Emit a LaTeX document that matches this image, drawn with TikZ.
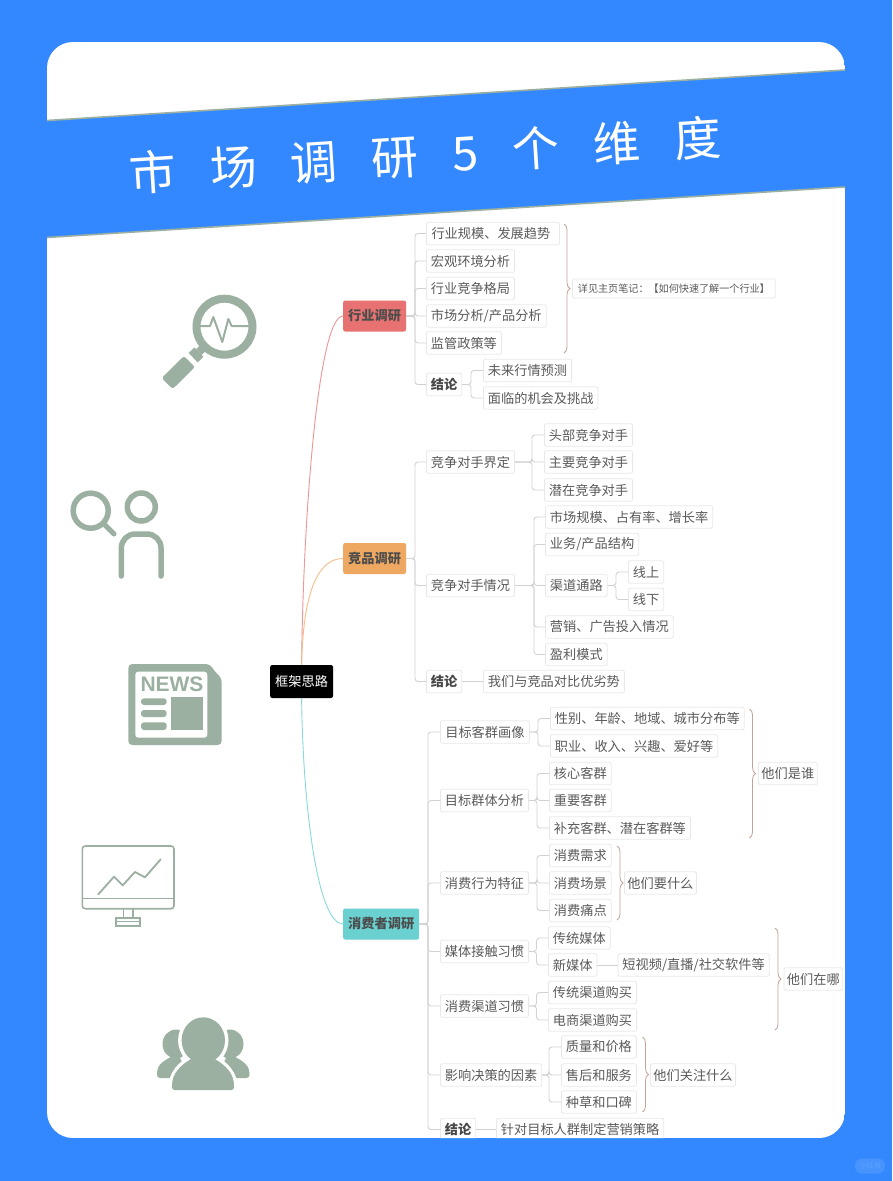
\documentclass[tikz,border=0pt]{standalone}
\usepackage{fontspec}
\setmainfont{Noto Sans CJK SC}
\newfontfamily\newsfont{Liberation Sans}
\usetikzlibrary{decorations.pathreplacing}
\definecolor{bgblue}{HTML}{3388FF}
\definecolor{sage}{HTML}{9BB0A0}
\definecolor{boxline}{HTML}{E8E8E8}
\definecolor{txt}{HTML}{5A5A5A}
\definecolor{conn}{HTML}{D2D2D2}
\definecolor{bracecol}{HTML}{C4A49A}
\definecolor{hyred}{HTML}{E87272}
\definecolor{jporange}{HTML}{EFA862}
\definecolor{xfteal}{HTML}{6AD0D0}
\tikzset{
  bx/.style={draw=boxline,line width=0.8pt,fill=white,rounded corners=2pt,anchor=west,
    inner xsep=4.5pt,inner ysep=0pt,minimum height=22.5pt,text=txt,font=\fontsize{13.2}{14}\selectfont},
  bb/.style={bx,font=\fontsize{13.2}{14}\selectfont\bfseries,text=black!72},
  nt/.style={bx,inner xsep=3pt},
  topic/.style={rounded corners=2pt,anchor=west,inner xsep=5pt,inner ysep=0pt,minimum height=31pt,
    text=black!70,font=\fontsize{13.2}{14}\selectfont\bfseries},
  lk/.style={draw=conn,line width=0.9pt,rounded corners=3pt},
  brc/.style={draw=bracecol,line width=0.8pt,decorate,decoration={brace,amplitude=6pt}},
  icl/.style={draw=sage,line cap=round,line join=round},
}
% \lkto{parent}{trunk x}{child}
\newcommand{\lkto}[3]{\draw[lk] (#1.east) -- (#2,0 |- #1.east) |- (#3.west);}
\begin{document}
\begin{tikzpicture}[x=1pt,y=-1pt]
\useasboundingbox (0,0) rectangle (892,1181);
\fill[bgblue] (0,0) rectangle (892,1181);
\begin{scope}
\clip[rounded corners=26pt] (47,42) rectangle (845,1138);
\fill[white] (47,42) rectangle (845,1138);
% title band
\fill[bgblue] (47,120.5) -- (845,70) -- (845,187) -- (47,237.5) -- cycle;
\draw[sage,line width=1.6pt] (47,120.5) -- (845,70);
\draw[sage,line width=1.6pt] (47,237.5) -- (845,187);
\node[rotate=3.62,text=white,font=\fontsize{47}{50}\selectfont] (title) at (425,155)
  {市\hspace{34pt}场\hspace{34pt}调\hspace{34pt}研\hspace{34pt}5\hspace{34pt}个\hspace{34pt}维\hspace{34pt}度};

% ---------- icons
% magnifier
\draw[sage,line width=8pt] (224.5,326.7) circle (28);
\draw[icl,line width=2pt] (200.7,326) -- (210,326) -- (213.3,317) -- (222.3,342) -- (228.3,319) -- (231.7,326) -- (248.3,326);
\draw[sage,line width=8pt] (203.2,347.9) -- (198.9,352.1);
\draw[sage,line width=13pt] (198.9,352.1) -- (193.2,357.7);
\fill[sage,rounded corners=2.5pt] (184,356) -- (195,367) -- (172.7,389) -- (161.7,378) -- cycle;
% person + magnifier
\draw[sage,line width=5.5pt] (90.7,510.7) circle (17.5);
\draw[icl,line width=5pt] (103.3,523.3) -- (114,534);
\draw[sage,line width=5.5pt] (141.3,507) circle (14);
\draw[icl,line width=5.5pt,rounded corners=14pt] (121.3,576) -- (121.3,534) -- (161,534) -- (161,576);
% news
\fill[sage,rounded corners=4pt] (128.3,664) -- (210,664) -- (215,672) -- (221.7,678) -- (221.7,745) -- (128.3,745) -- cycle;
\fill[white,rounded corners=3pt] (135.3,671.7) rectangle (207.3,737.7);
\node[text=sage,font=\newsfont\fontsize{21}{21}\selectfont\bfseries,inner sep=0pt] (news) at (172,684) {NEWS};
\fill[sage,rounded corners=3pt] (141,698.3) rectangle (166.7,705);
\fill[sage,rounded corners=3pt] (141,710) rectangle (166.7,717);
\fill[sage,rounded corners=3pt] (141,722.3) rectangle (166.7,730);
\fill[sage] (170.7,697.3) rectangle (202.7,730.3);
% monitor
\draw[sage,line width=1.6pt,rounded corners=3pt] (82.3,846) rectangle (174,908.7);
\draw[sage,line width=1.6pt] (82.3,898.3) -- (174,898.3);
\draw[sage,line width=1.6pt] (123.3,908.7) -- (123.3,917.7);
\draw[sage,line width=1.6pt] (132.7,908.7) -- (132.7,917.7);
\draw[sage,line width=1.6pt] (115.7,917.7) rectangle (140,926);
\draw[sage,line width=1.2pt] (115.7,921.7) -- (140,921.7);
\draw[icl,line width=1.8pt] (98.3,894.3) -- (114,876.7) -- (122.7,885.3) -- (135,872) -- (145,877.3) -- (160.7,859.3);
% group
\fill[sage] (176,1044) ellipse (13.5 and 14.5);
\fill[sage] (230,1044) ellipse (13.5 and 14.5);
\fill[sage,rounded corners=3pt] (157,1078) -- (157,1072) .. controls (159,1063) and (168,1058) .. (178,1054) -- (190,1078) -- cycle;
\fill[sage,rounded corners=3pt] (249.5,1078) -- (249.5,1072) .. controls (247,1063) and (238,1058) .. (228,1054) -- (216,1078) -- cycle;
\def\grpbody{(172,1090) -- (172,1084) .. controls (174,1070) and (185,1062) .. (197,1056) -- (209,1056) .. controls (221,1062) and (232,1070) .. (234,1084) -- (234,1090) -- cycle}
\draw[white,line width=7pt] \grpbody;
\draw[white,line width=7pt] (203.3,1040.3) ellipse (21.7 and 23);
\fill[sage,rounded corners=2.5pt] \grpbody;
\fill[sage] (203.3,1040.3) ellipse (21.7 and 23);

% ---------- mind map
\node[fill=black,rounded corners=2pt,text=white,font=\fontsize{13.2}{14}\selectfont,minimum height=33pt,inner xsep=5pt,inner ysep=0pt,anchor=west] (root) at (270,681.5) {框架思路};
\node[topic,fill=hyred] (t1) at (343,316) {行业调研};
\node[topic,fill=jporange] (t2) at (343,558.5) {竞品调研};
\node[topic,fill=xfteal] (t3) at (343,924) {消费者调研};
\draw[draw=hyred!75,line width=0.9pt] (root.north) .. controls (303,520) and (318,316) .. (t1.west);
\draw[draw=jporange!75,line width=0.9pt] (root.north) .. controls (303,600) and (315,558.5) .. (t2.west);
\draw[draw=xfteal!80,line width=0.9pt] (root.south) .. controls (303,810) and (318,924) .. (t3.west);

% group 1
\node[bx,minimum width=133pt,align=left] (a1) at (426,233.5) {行业规模、发展趋势\hspace{4pt}};
\node[bx] (a2) at (426,261) {宏观环境分析};
\node[bx] (a3) at (426,288.5) {行业竞争格局};
\node[bx] (a4) at (426,316) {市场分析/产品分析};
\node[bx] (a5) at (426,343) {监管政策等};
\node[bb] (a6) at (426,384.5) {结论};
\node[bx] (a61) at (483,370.5) {未来行情预测};
\node[bx] (a62) at (483,398) {面临的机会及挑战};
\node[bx,font=\fontsize{10.1}{11}\selectfont,minimum height=19pt,inner xsep=5.5pt] (an) at (572,288.5) {详见主页笔记：【如何快速了解一个行业】};
\foreach \c in {a1,a2,a3,a4,a5,a6} {\lkto{t1}{415}{\c}}
\foreach \c in {a61,a62} {\lkto{a6}{471}{\c}}
\coordinate (ab1) at (564,224); \coordinate (ab2) at (564,353);
\draw[brc] (ab1) -- (ab2);

% group 2
\node[bx] (b1) at (426,462) {竞争对手界定\hspace{9pt}};
\node[bx] (b2) at (426,585.5) {竞争对手情况\hspace{10pt}};
\node[bb] (b3) at (426,681.5) {结论};
\node[bx] (b11) at (544,435) {头部竞争对手};
\node[bx] (b12) at (544,462) {主要竞争对手};
\node[bx] (b13) at (544,490) {潜在竞争对手};
\node[bx] (b21) at (545,517) {市场规模、占有率、增长率};
\node[bx] (b22) at (545,544.5) {业务/产品结构};
\node[bx] (b23) at (545,585.5) {渠道通路};
\node[bx] (b231) at (628,572) {线上};
\node[bx] (b232) at (628,599.5) {线下};
\node[bx] (b24) at (545,627) {营销、广告投入情况};
\node[bx] (b25) at (545,654.5) {盈利模式};
\node[bx] (b31) at (483,681.5) {我们与竞品对比优劣势};
\foreach \c in {b1,b2,b3} {\lkto{t2}{415}{\c}}
\foreach \c in {b11,b12,b13} {\lkto{b1}{532}{\c}}
\foreach \c in {b21,b22,b23,b24,b25} {\lkto{b2}{534}{\c}}
\foreach \c in {b231,b232} {\lkto{b23}{616}{\c}}
\draw[lk] (b3.east) -- (b31.west);

% group 3
\node[bx,minimum width=89pt] (c1) at (440,732) {目标客群画像};
\node[bx] (c2) at (440,800.5) {目标群体分析};
\node[bx] (c3) at (440,883) {消费行为特征};
\node[bx] (c4) at (440,951.5) {媒体接触习惯};
\node[bx] (c5) at (440,1006) {消费渠道习惯};
\node[bx] (c6) at (440,1075) {影响决策的因素};
\node[bb] (c7) at (440,1129.5) {结论};
\node[bx] (c11) at (550,718.5) {性别、年龄、地域、城市分布等};
\node[bx] (c12) at (550,746) {职业、收入、兴趣、爱好等};
\node[bx] (c21) at (549,773.5) {核心客群};
\node[bx] (c22) at (549,800.5) {重要客群};
\node[bx] (c23) at (549,828) {补充客群、潜在客群等};
\node[bx] (c31) at (549,855.5) {消费需求};
\node[bx] (c32) at (549,883) {消费场景};
\node[bx] (c33) at (549,910.5) {消费痛点};
\node[bx] (c41) at (548,938) {传统媒体};
\node[bx] (c42) at (548,965) {新媒体};
\node[bx] (c421) at (617.5,965) {短视频/直播/社交软件等};
\node[bx] (c51) at (548,992.5) {传统渠道购买};
\node[bx] (c52) at (548,1020) {电商渠道购买};
\node[bx] (c61) at (561,1047) {质量和价格};
\node[bx] (c62) at (561,1075) {售后和服务};
\node[bx] (c63) at (561,1102) {种草和口碑};
\node[bx] (c71) at (496,1129.5) {针对目标人群制定营销策略};
\node[nt] (cn1) at (758,773.5) {他们是谁};
\node[nt] (cn2) at (624,883) {他们要什么};
\node[nt] (cn3) at (783.5,979) {他们在哪};
\node[nt] (cn4) at (650,1075) {他们关注什么};
\foreach \c in {c1,c2,c3,c4,c5,c6,c7} {\lkto{t3}{428}{\c}}
\foreach \c in {c11,c12} {\lkto{c1}{538}{\c}}
\foreach \c in {c21,c22,c23} {\lkto{c2}{537}{\c}}
\foreach \c in {c31,c32,c33} {\lkto{c3}{537}{\c}}
\foreach \c in {c41,c42} {\lkto{c4}{536.5}{\c}}
\foreach \c in {c51,c52} {\lkto{c5}{536.5}{\c}}
\foreach \c in {c61,c62,c63} {\lkto{c6}{549}{\c}}
\draw[lk] (c42.east) -- (c421.west);
\draw[lk] (c7.east) -- (c71.west);
\coordinate (cb11) at (749.5,709); \coordinate (cb12) at (749.5,838);
\draw[brc] (cb11) -- (cb12);
\coordinate (cb21) at (617,846); \coordinate (cb22) at (617,920);
\draw[brc] (cb21) -- (cb22);
\coordinate (cb31) at (775,928); \coordinate (cb32) at (775,1030);
\draw[brc] (cb31) -- (cb32);
\coordinate (cb41) at (642.5,1037); \coordinate (cb42) at (642.5,1112);
\draw[brc] (cb41) -- (cb42);
\end{scope}
% watermark
\node[fill=white,fill opacity=0.1,text=white,text opacity=0.12,rounded corners=7pt,font=\fontsize{7}{8}\selectfont,minimum width=30pt,minimum height=15pt,inner sep=0pt] (wm) at (870,1166) {小红书};
\end{tikzpicture}
\end{document}
